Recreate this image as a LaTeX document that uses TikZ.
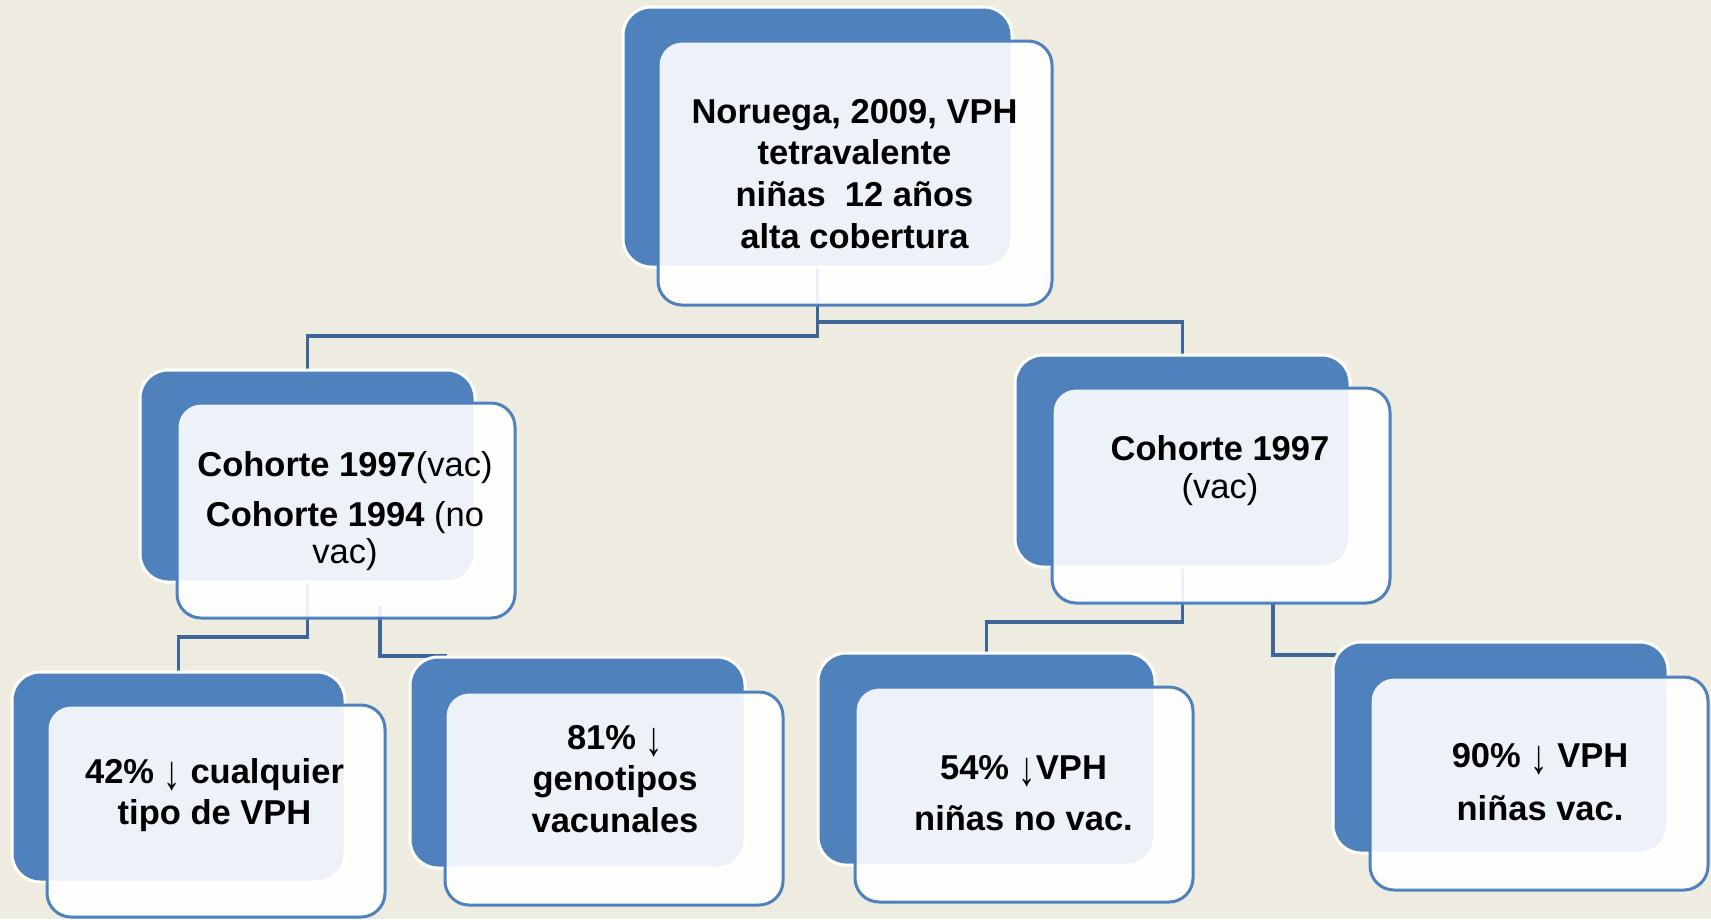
\documentclass[tikz,border=0pt]{standalone}
\usepackage{fontspec}
\setmainfont{Liberation Sans}
\definecolor{pagebg}{HTML}{EEECE1}
\definecolor{boxblue}{HTML}{4F81BD}
\definecolor{linkblue}{HTML}{3F6699}
\newcommand\cardfont{\fontsize{34.5}{41.7}\selectfont}
\newcommand\rg[1]{{\mdseries #1}}
% thin, tall down arrow
\newcommand\dnarrow{\raisebox{-0.17em}{\mdseries\scalebox{1}[1.4]{↓}}}
\begin{document}
\begin{tikzpicture}[x=1pt,y=-1pt,
  backbox/.style={draw=white,line width=3pt,fill=boxblue,rounded corners=28pt,inner sep=0pt,outer sep=0pt},
  frontbox/.style={draw=boxblue,line width=3pt,fill=white,fill opacity=0.9,rounded corners=24pt,inner sep=0pt,outer sep=0pt},
  cardtext/.style={font=\bfseries\cardfont,align=center,inner sep=0pt,text=black},
  link/.style={draw=linkblue,line width=3.5pt}]
  % page
  \fill[pagebg] (0,0) rectangle (1711,919);
  \useasboundingbox (0,0) rectangle (1711,919);

  % anchors of the back panels (used by the connectors)
  \path
    node[minimum width=389pt,minimum height=260pt] (rootB) at (817.5,137) {}
    node[minimum width=335pt,minimum height=212pt] (leftB) at (307.5,476) {}
    node[minimum width=335pt,minimum height=212pt] (rightB) at (1182.5,461) {}
    node[minimum width=333pt,minimum height=210pt] (blB) at (178.5,777) {}
    node[minimum width=335pt,minimum height=211pt] (gtB) at (577.5,762.5) {}
    node[minimum width=337pt,minimum height=212pt] (nvB) at (986.5,759) {}
    node[minimum width=335pt,minimum height=211pt] (vaB) at (1500.5,747.5) {};
  \coordinate (leftOut) at (380,606);
  \coordinate (rightOut) at (1273,603);

  % connectors
  \draw[link] (rootB.center) -- (rootB.center |- 0,336) -| (leftB.center);
  \draw[link] (rootB.center) -- (rootB.center |- 0,322) -| (rightB.center);
  \draw[link] (leftB.center) -- (leftB.center |- 0,637) -| (blB.center);
  \draw[link] (leftOut) |- ([xshift=37pt,yshift=1pt]gtB.north west);
  \draw[link] (rightB.center) -- (rightB.center |- 0,622) -| (nvB.center);
  \draw[link] (rightOut) |- ([xshift=7pt,yshift=-13pt]vaB.north west);

  % back panels
  \foreach \n/\w/\h in {rootB/389/260,leftB/335/212,rightB/335/212,blB/333/210,gtB/335/211,nvB/337/212,vaB/335/211}
    \node[backbox,minimum width=\w pt,minimum height=\h pt] at (\n.center) {};

  % front panels
  \node[frontbox,minimum width=394pt,minimum height=264pt] (rootF) at (855,173) {};
  \node[frontbox,minimum width=338pt,minimum height=215pt] (leftF) at (346,510.5) {};
  \node[frontbox,minimum width=338pt,minimum height=215pt] (rightF) at (1221,495.5) {};
  \node[frontbox,minimum width=338pt,minimum height=212pt] (blF) at (216,811) {};
  \node[frontbox,minimum width=338pt,minimum height=213pt] (gtF) at (614,798.5) {};
  \node[frontbox,minimum width=338pt,minimum height=215pt] (nvF) at (1024,794.5) {};
  \node[frontbox,minimum width=338pt,minimum height=213pt] (vaF) at (1539,783.5) {};

  % texts
  \node[cardtext] (rootT) at (854.5,177.5)
    {\strut Noruega, 2009, VPH\\tetravalente\\niñas\ \ 12 años\\alta cobertura\strut};
  \node[cardtext] (leftT) at (345,511.5)
    {\strut Cohorte 1997\rg{(vac)}\\[8.3pt]Cohorte 1994 \rg{(no}\\[-5.2pt]\rg{vac)}\strut};
  \node[cardtext] (rightT) at (1220,470.7)
    {\strut Cohorte 1997\\[-3.7pt]\rg{(vac)}\strut};
  \node[cardtext] (blT) at (214.5,795.7)
    {\strut 42\% \dnarrow{} cualquier\\tipo de VPH\strut};
  \node[cardtext] (gtT) at (615,782.5)
    {\strut 81\% \dnarrow\\genotipos\\vacunales\strut};
  \node[cardtext] (nvT) at (1023.5,796.7)
    {\strut 54\% \dnarrow VPH\\[9.3pt]niñas no vac.\strut};
  \node[cardtext] (vaT) at (1540,785.3)
    {\strut 90\% \dnarrow{} VPH\\[11pt]niñas vac.\strut};
\end{tikzpicture}
\end{document}
